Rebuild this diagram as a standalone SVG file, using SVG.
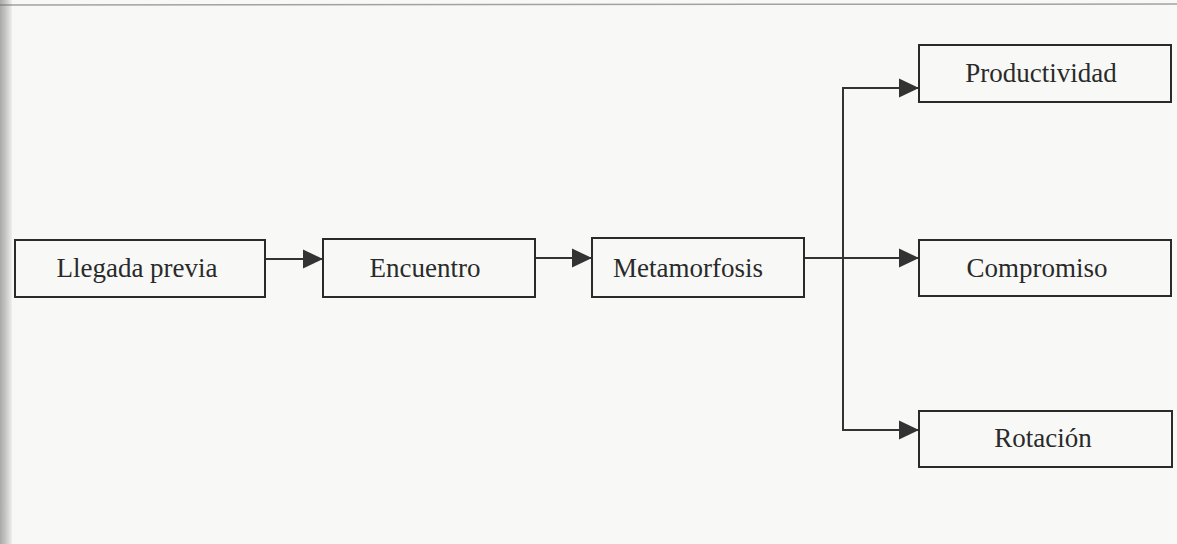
<svg xmlns="http://www.w3.org/2000/svg" width="1177" height="544" viewBox="0 0 1177 544">
  <style>
    .box { fill: none; stroke: #2a2a2a; stroke-width: 2; }
    .lbl { font-family: "Liberation Serif", "Times New Roman", serif; font-size: 27px; fill: #2a2a2a; text-anchor: middle; }
    .wire { fill: none; stroke: #333; stroke-width: 2; }
  </style>
  <defs>
    <marker id="arr" markerUnits="userSpaceOnUse" markerWidth="22" markerHeight="20" refX="20" refY="10" orient="auto">
      <path d="M0,0.5 L20,10 L0,19.5 Z" fill="#333"/>
    </marker>
    <linearGradient id="edge" x1="0" y1="0" x2="1" y2="0">
      <stop offset="0" stop-color="#a9aaa8"/>
      <stop offset="0.5" stop-color="#c8c9c6"/>
      <stop offset="1" stop-color="#eef0ed"/>
    </linearGradient>
  </defs>
  <rect width="1177" height="544" fill="#f8f9f7"/>
  <rect x="0" y="0" width="12" height="544" fill="url(#edge)"/>
  <line x1="0" y1="5" x2="1177" y2="4" stroke="#6a6a68" stroke-width="1.5" opacity="0.6"/>

  <g id="connectors">
    <line class="wire" x1="265" y1="259" x2="323" y2="259" marker-end="url(#arr)"/>
    <line class="wire" x1="535" y1="258" x2="592" y2="258" marker-end="url(#arr)"/>
    <line class="wire" x1="804" y1="258" x2="919" y2="258" marker-end="url(#arr)"/>
    <line class="wire" x1="843" y1="87" x2="843" y2="431"/>
    <polyline class="wire" points="843,88 919,88" marker-end="url(#arr)"/>
    <polyline class="wire" points="843,430 919,430" marker-end="url(#arr)"/>
  </g>

  <g id="llegada">
    <rect class="box" x="15" y="240" width="250" height="57"/>
    <text class="lbl" x="137" y="277">Llegada previa</text>
  </g>
  <g id="encuentro">
    <rect class="box" x="323" y="239" width="212" height="58"/>
    <text class="lbl" x="425" y="277">Encuentro</text>
  </g>
  <g id="metamorfosis">
    <rect class="box" x="592" y="238" width="212" height="59"/>
    <text class="lbl" x="688" y="277">Metamorfosis</text>
  </g>
  <g id="productividad">
    <rect class="box" x="919" y="45" width="252" height="57"/>
    <text class="lbl" x="1041" y="82">Productividad</text>
  </g>
  <g id="compromiso">
    <rect class="box" x="919" y="240" width="252" height="56"/>
    <text class="lbl" x="1037" y="277">Compromiso</text>
  </g>
  <g id="rotacion">
    <rect class="box" x="919" y="411" width="253" height="56"/>
    <text class="lbl" x="1043" y="447">Rotación</text>
  </g>
</svg>
